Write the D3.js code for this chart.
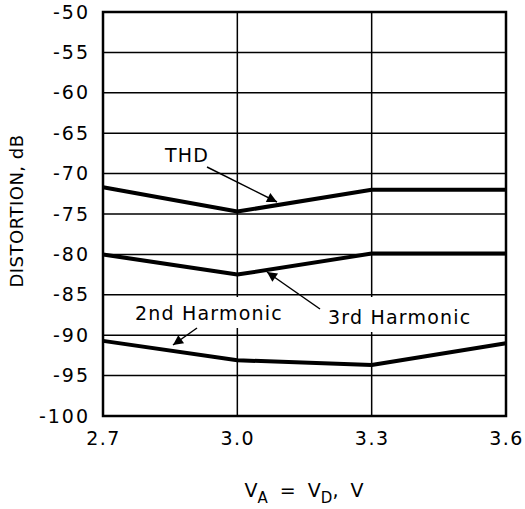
<!DOCTYPE html>
<html>
<head>
<meta charset="utf-8">
<script src="https://cdn.jsdelivr.net/npm/d3@7"></script>
<style>
  html, body { margin: 0; padding: 0; background: #fff; }
  svg { display: block; }
  text { font-family: "DejaVu Sans", sans-serif; fill: #000; }
</style>
</head>
<body>
<svg id="chart" width="525" height="509"></svg>
<script>
// ---- data ----
const supplyV = [2.7, 3.0, 3.3, 3.6];
const thd = [-71.7, -74.7, -72.0, -72.0];
const third = [-80.0, -82.5, -79.9, -79.9];
const second = [-90.7, -93.1, -93.7, -91.0];
const xTicks = [2.7, 3.0, 3.3, 3.6];
const xTickLabels = ["2.7", "3.0", "3.3", "3.6"];
const yTicks = [-50, -55, -60, -65, -70, -75, -80, -85, -90, -95, -100];

const svg = d3.select("#chart");
const pL = 103, pR = 506, pT = 12, pB = 416;
const x = d3.scaleLinear().domain([2.7, 3.6]).range([pL, pR]);
const y = d3.scaleLinear().domain([-100, -50]).range([pB, pT]);

// vertical gridlines
svg.append("g").selectAll("line").data(xTicks.slice(1, -1)).join("line")
  .attr("x1", d => x(d)).attr("x2", d => x(d))
  .attr("y1", pT).attr("y2", pB)
  .attr("stroke", "#000").attr("stroke-width", 1.5);

// white backgrounds behind the harmonic labels (break vertical gridlines)
svg.append("rect").attr("x", 130).attr("y", 297).attr("width", 158).attr("height", 31).attr("fill", "#fff");
svg.append("rect").attr("x", 323).attr("y", 297).attr("width", 156).attr("height", 35).attr("fill", "#fff");

// horizontal gridlines
svg.append("g").selectAll("line").data(yTicks.slice(1, -1)).join("line")
  .attr("x1", pL).attr("x2", pR)
  .attr("y1", d => y(d)).attr("y2", d => y(d))
  .attr("stroke", "#000").attr("stroke-width", 1.5);

// frame
svg.append("rect").attr("x", pL).attr("y", pT)
  .attr("width", pR - pL).attr("height", pB - pT)
  .attr("fill", "none").attr("stroke", "#000").attr("stroke-width", 2.5);

// series
const line = d3.line().x((d, i) => x(supplyV[i])).y(d => y(d));
[thd, third, second].forEach(s => {
  svg.append("path").datum(s).attr("d", line)
    .attr("fill", "none").attr("stroke", "#000").attr("stroke-width", 4)
    .attr("stroke-linejoin", "round");
});

// axes tick labels
const yAxis = d3.axisLeft(y).tickValues(yTicks).tickSize(0).tickPadding(13)
  .tickFormat(d => String(d));
const gy = svg.append("g").attr("transform", `translate(${pL},0)`).call(yAxis);
gy.select(".domain").remove();
gy.selectAll("text").attr("font-size", 19).attr("font-family", "DejaVu Sans").attr("letter-spacing", 2);

const xAxis = d3.axisBottom(x).tickValues(xTicks).tickSize(0).tickPadding(16)
  .tickFormat((d, i) => xTickLabels[i]);
const gx = svg.append("g").attr("transform", `translate(0,${pB})`).call(xAxis);
gx.select(".domain").remove();
gx.selectAll("text").attr("font-size", 19).attr("font-family", "DejaVu Sans").attr("letter-spacing", 1.5);

// axis titles
svg.append("text").attr("transform", "translate(23,211) rotate(-90)")
  .attr("text-anchor", "middle").attr("font-size", 18).attr("letter-spacing", 0.5)
  .text("DISTORTION, dB");

const xt = svg.append("text").attr("x", 304).attr("y", 497)
  .attr("text-anchor", "middle").attr("font-size", 19).attr("letter-spacing", 0)
  .attr("xml:space", "preserve");
xt.append("tspan").text("V");
xt.append("tspan").attr("dy", 6).attr("font-size", 15).text("A");
xt.append("tspan").attr("dy", -6).text("  =  V");
xt.append("tspan").attr("dy", 6).attr("font-size", 15).text("D");
xt.append("tspan").attr("dy", -6).text(",  V");

// annotations
svg.append("defs").append("marker").attr("id", "ah")
  .attr("viewBox", "0 0 10 10").attr("refX", 10).attr("refY", 5)
  .attr("markerWidth", 14).attr("markerHeight", 10).attr("markerUnits", "userSpaceOnUse")
  .attr("orient", "auto")
  .append("path").attr("d", "M0,0 L10,5 L0,10 z").attr("fill", "#000");

const labels = [
  {text: "THD", x: 165, y: 162},
  {text: "2nd Harmonic", x: 135, y: 320},
  {text: "3rd Harmonic", x: 328, y: 324}
];
svg.append("g").selectAll("text").data(labels).join("text")
  .attr("x", d => d.x).attr("y", d => d.y)
  .attr("font-size", 19).attr("letter-spacing", 1.2)
  .text(d => d.text);

const arrows = [
  {x1: 207, y1: 167, x2: 277, y2: 202},
  {x1: 320, y1: 309, x2: 267, y2: 272},
  {x1: 197, y1: 328, x2: 173, y2: 345}
];
svg.append("g").selectAll("line").data(arrows).join("line")
  .attr("x1", d => d.x1).attr("y1", d => d.y1)
  .attr("x2", d => d.x2).attr("y2", d => d.y2)
  .attr("stroke", "#000").attr("stroke-width", 1.5)
  .attr("marker-end", "url(#ah)");
</script>
</body>
</html>
